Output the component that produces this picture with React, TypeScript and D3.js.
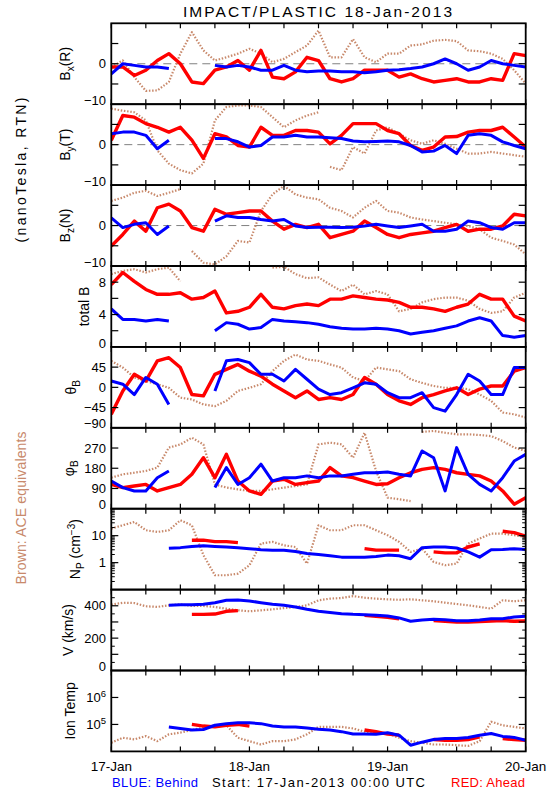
import React from "react";
import * as d3 from "d3";

// ---------- data (hours after 17-Jan-2013 00:00 UTC) ----------
const HOURS = [0,2,4,6,8,10,12,14,16,18,20,22,24,26,28,30,32,34,36,38,40,42,44,46,48,50,52,54,56,58,60,62,64,66,68,70,72];
const DAY_LABELS = ["17-Jan", "18-Jan", "19-Jan", "20-Jan"];
const DAY_HOURS = [0, 24, 48, 72];
const N = null;

const BX_BLUE = [-2.5,0,-0.4,-0.8,-0.8,-1.2,N,N,N,-0.4,-0.8,-0.4,-0.8,-1.6,-1.6,-0.4,-1.6,-2.0,-1.8,-1.8,-2.0,-2.0,-2.2,-2.0,-1.6,-1.5,-1.2,-0.8,0,1.2,0,-1.6,-0.8,0.8,0,-0.4,-0.8];
const BX_RED = [-0.8,-0.8,-2.9,-1.6,0.8,2.5,0,-4.5,-4.9,-1.6,-0.8,0.8,-1.6,3.3,-3.3,-3.7,-2.0,1.6,0.8,-3.7,-4.5,-3.7,-1.6,-1.6,-1.6,-3.3,-2.5,-3.7,-4.5,-4.1,-3.7,-4.5,-4.5,-3.7,-4.1,2.5,2.0];
const BX_BROWN = [-0.8,0.8,-3.3,-6.7,-6.6,-4.5,2.5,7.8,3.3,0.8,1.6,2.5,3.7,2.5,0.4,1.2,2.9,4.5,8.2,1.6,1.6,6.1,1.6,0.4,2.5,2.5,4.5,4.8,5.7,5.9,5.6,3.3,3.1,2.5,1.2,-1.6,-4.9];

const BY_BLUE = [2.7,3.1,3.1,2.3,-1.0,1.1,N,N,N,1.5,1.5,0.7,-0.6,-0.2,1.9,1.9,2.3,1.9,1.9,1.7,1.5,0.9,0.7,0.8,0.9,0.7,-0.2,-1.8,-1.6,-0.2,-2.2,2.3,2.7,2.3,0.7,-0.2,-1.0];
const BY_RED = [1.1,7.2,6.8,5.2,4.3,3.1,4.3,1.1,-3.4,2.7,1.9,-0.2,-0.6,4.3,2.3,2.3,3.5,3.5,3.1,0.2,2.3,5.2,5.2,5.2,3.5,2.7,-0.2,-1.4,-0.6,1.9,2.0,3.1,3.5,3.5,4.3,1.9,-0.6];
const BY_BROWN = [8.9,8.4,8.0,6.0,-1.4,-4.7,-6.3,-7.1,-4.7,6.0,9.3,9.7,9.7,9.3,6.8,4.3,6.0,7.2,8.0,-5.5,-6.3,-0.6,-2.2,3.5,4.3,2.7,1.1,0.2,1.1,0.2,-1.0,-2.2,-2.2,-1.8,-2.2,-2.6,-3.0];

const BZ_BLUE = [1.9,-0.5,0.3,0.7,-2.2,-0.1,N,N,N,1.1,2.4,2.0,2.0,1.5,1.1,1.5,-0.1,-0.5,-0.4,-0.4,-0.5,-0.4,-0.1,0.3,-0.1,-0.5,-0.1,0.3,-1.4,-1.4,-0.9,1.1,0.7,-0.5,-0.9,0.7,0.7];
const BZ_RED = [-5.1,-2.2,1.1,-1.4,4.4,5.3,3.6,-0.5,-1.4,4.0,2.8,3.2,3.6,3.6,1.1,-0.9,0.3,-0.5,0.3,-3.0,-2.2,-1.4,1.1,-0.5,-2.2,-3.0,-2.2,-1.8,-1.4,-0.5,0.3,-1.4,-0.9,-0.9,-0.1,2.8,2.4];
const BZ_BROWN = [6.1,6.9,8.1,8.6,7.3,8.1,9.0,-6.3,-9.2,-9.6,-7.6,-3.8,-4.2,3.6,7.7,9.8,7.7,6.9,6.5,4.4,3.6,2.0,4.4,6.1,3.6,3.2,2.0,1.5,1.1,0.7,0.3,-0.1,-0.9,-3.0,-3.8,-4.7,-7.1];

const BT_BLUE = [4.7,3.4,3.4,3.2,3.4,3.2,N,N,N,2.0,3.0,2.8,2.2,2.4,3.4,3.2,3.1,3.0,2.8,2.5,2.3,2.2,2.2,2.3,2.2,2.0,1.6,1.8,2.0,2.3,2.6,3.2,3.6,3.2,1.4,1.2,1.4];
const BT_RED = [7.7,9.2,8.1,7.1,6.5,6.5,6.7,5.9,6.1,6.9,4.2,4.4,4.9,6.5,4.9,4.7,5.1,5.3,5.1,5.9,5.9,6.3,6.1,5.9,5.8,5.5,4.9,4.9,4.7,4.4,4.9,5.3,6.5,5.9,5.9,3.8,3.2];
const BT_BROWN = [9.0,9.4,9.6,9.2,9.6,9.8,8.1,N,N,N,N,N,N,N,9.8,9.9,9.0,8.5,8.6,7.7,6.9,7.7,6.5,6.9,6.5,4.4,4.7,5.5,5.9,6.1,6.1,5.7,4.7,4.2,4.4,6.1,6.7];

const TH_BLUE = [14,7,-16,22,7,-38,N,N,N,-8,59,62,55,29,29,14,40,18,-4,-16,-12,-1,10,7,-12,-23,-23,-12,-45,-53,-16,29,14,-16,-16,44,44];
const TH_RED = [-60,-8,29,14,59,66,44,-16,-19,29,40,51,36,25,7,-8,-23,-8,-27,-23,-27,-16,22,7,-16,-30,-38,-23,-16,-8,-1,-16,-4,3,3,36,44];
const TH_BROWN = [59,44,22,14,7,-1,-23,-27,-38,-42,-30,-8,-1,7,36,59,73,62,59,51,44,22,14,44,40,36,18,10,3,-1,-1,-4,-16,-30,-56,-60,-67];

const PH_BLUE = [123,94,79,79,138,168,N,N,N,94,183,108,138,198,123,138,138,146,138,146,146,153,160,160,163,153,146,257,227,79,272,153,108,79,138,212,242];
const PH_RED = [108,94,101,108,79,94,108,153,227,138,242,123,79,64,123,131,108,116,123,183,146,138,123,108,111,138,160,175,183,175,160,153,146,123,79,20,49];
const PH_BROWN = [138,153,160,168,183,272,286,316,286,108,94,86,79,79,86,94,101,108,286,294,286,227,338,168,49,42,34,342,346,338,331,331,328,323,301,272,257];

const NP_BLUE = [N,N,N,N,N,3.4,3.6,4.0,4.2,4.0,3.8,3.6,3.3,3.0,2.9,2.9,2.6,2.2,2.0,1.8,1.6,1.6,1.6,1.7,1.9,1.8,1.4,3.6,3.8,3.8,3.5,2.5,1.6,3.0,3.1,3.3,3.1];
const NP_RED = [N,N,N,N,N,N,N,6.8,6.8,6.0,6.0,5.5,N,N,N,N,N,N,N,N,N,N,3.3,2.9,2.9,2.9,N,N,2.5,2.3,2.3,3.8,5.0,N,14.6,13.0,9.6];
const NP_BROWN = [18.3,24.3,32.3,15.9,13.7,15.9,37.2,24.3,1.9,0.34,0.34,0.39,0.8,5.1,5.9,4.4,3.8,0.92,24.3,15.9,15.9,24.3,24.3,15.9,10.4,5.9,2.5,3.3,1.06,0.8,0.92,5.1,7.8,11.9,11.9,10.4,9.0];

const V_BLUE = [N,N,N,N,N,403,407,407,409,419,434,436,430,419,409,403,393,378,366,358,351,347,345,341,337,325,304,312,316,314,308,308,312,320,320,331,335];
const V_RED = [N,N,N,N,N,N,N,347,347,349,366,370,N,N,N,N,N,N,N,N,N,N,341,335,329,320,N,N,308,304,300,300,302,306,308,304,306];
const V_BROWN = [407,419,417,397,393,403,409,399,399,393,382,372,366,372,378,386,393,403,434,444,448,460,450,444,440,437,440,434,428,419,411,403,393,382,434,428,434];

const T_BLUE = [N,N,N,N,N,8.1e4,7.1e4,6.2e4,6.5e4,9.3e4,1.07e5,1.15e5,1.15e5,1.07e5,8.7e4,8.1e4,8.1e4,7.4e4,6.6e4,6.2e4,5.4e4,4.4e4,4.4e4,4.3e4,4.9e4,4.0e4,1.7e4,2.2e4,2.75e4,3.0e4,3.0e4,3.3e4,4.0e4,4.6e4,3.6e4,3.3e4,2.6e4];
const T_RED = [N,N,N,N,N,N,N,1.0e5,8.7e4,8.1e4,9.3e4,1.0e5,8.7e4,N,N,N,N,N,N,N,N,N,6.2e4,5.4e4,4.4e4,4.0e4,N,N,2.75e4,2.6e4,2.6e4,2.75e4,3.5e4,N,3.0e4,2.75e4,2.6e4];
const T_BROWN = [2.1e4,3.2e4,2.8e4,3.7e4,2.4e4,4.3e4,5.0e4,6.2e4,7.6e4,9.3e4,9.3e4,3.2e4,2.4e4,1.8e4,2.4e4,2.4e4,2.8e4,4.3e4,8.1e4,8.1e4,8.1e4,7.1e4,5.4e4,4.6e4,4.6e4,3.2e4,2.4e4,2.1e4,1.8e4,1.8e4,1.7e4,1.6e4,2.4e4,1.26e5,9.3e4,8.1e4,7.1e4];

// ---------- layout / style ----------
const X0 = 111.3, X1 = 525.7, TOP = 23.3, PH = 80.9;
const BLUE = "#0000ff", RED = "#ff0000", BROWN = "#c8896b";
const FONT = "'Liberation Sans', Arial, sans-serif";

type YLab = { parts: { t: string; s?: "sub" | "sup" }[]; bx: number };
type PanelDef = {
  log: boolean;
  domain: [number, number];
  major: number[];
  labels: { v: number; t: string; sup?: string }[];
  minor: number[];
  zero: boolean;
  series: (number | null)[][];
  ylab: YLab;
};

const logMinor = (lo: number, hi: number) => {
  const out: number[] = [];
  for (let e = lo; e < hi; e++) for (let k = 2; k <= 9; k++) out.push(k * Math.pow(10, e));
  return out;
};

const PANELS: PanelDef[] = [
  { log: false, domain: [-10, 10], major: [-5, 0, 5], labels: [{ v: -10, t: "−10" }, { v: 0, t: "0" }], minor: [], zero: true,
    series: [BX_BROWN, BX_RED, BX_BLUE], ylab: { parts: [{ t: "B" }, { t: "x", s: "sub" }, { t: "(R)" }], bx: 70 } },
  { log: false, domain: [-10, 10], major: [-5, 0, 5], labels: [{ v: -10, t: "−10" }, { v: 0, t: "0" }], minor: [], zero: true,
    series: [BY_BROWN, BY_RED, BY_BLUE], ylab: { parts: [{ t: "B" }, { t: "y", s: "sub" }, { t: "(T)" }], bx: 70 } },
  { log: false, domain: [-10, 10], major: [-5, 0, 5], labels: [{ v: -10, t: "−10" }, { v: 0, t: "0" }], minor: [], zero: true,
    series: [BZ_BROWN, BZ_RED, BZ_BLUE], ylab: { parts: [{ t: "B" }, { t: "z", s: "sub" }, { t: "(N)" }], bx: 70 } },
  { log: false, domain: [0, 10], major: [2, 4, 6, 8], labels: [{ v: 0, t: "0" }, { v: 4, t: "4" }, { v: 8, t: "8" }], minor: [], zero: false,
    series: [BT_BROWN, BT_RED, BT_BLUE], ylab: { parts: [{ t: "total B" }], bx: 89 } },
  { log: false, domain: [-90, 90], major: [-45, 0, 45], labels: [{ v: -90, t: "−90" }, { v: -45, t: "−45" }, { v: 0, t: "0" }, { v: 45, t: "45" }], minor: [], zero: false,
    series: [TH_BROWN, TH_RED, TH_BLUE], ylab: { parts: [{ t: "θ" }, { t: "B", s: "sub" }], bx: 76 } },
  { log: false, domain: [0, 360], major: [90, 180, 270], labels: [{ v: 0, t: "0" }, { v: 90, t: "90" }, { v: 180, t: "180" }, { v: 270, t: "270" }], minor: [], zero: false,
    series: [PH_BROWN, PH_RED, PH_BLUE], ylab: { parts: [{ t: "φ" }, { t: "B", s: "sub" }], bx: 74 } },
  { log: true, domain: [0.1, 100], major: [1, 10], labels: [{ v: 1, t: "1" }, { v: 10, t: "10" }], minor: logMinor(-1, 2), zero: false,
    series: [NP_BROWN, NP_RED, NP_BLUE], ylab: { parts: [{ t: "N" }, { t: "P", s: "sub" }, { t: " (cm" }, { t: "−3", s: "sup" }, { t: ")" }], bx: 80 } },
  { log: false, domain: [0, 500], major: [100, 200, 300, 400], labels: [{ v: 0, t: "0" }, { v: 200, t: "200" }, { v: 400, t: "400" }],
    minor: [50, 150, 250, 350, 450], zero: false,
    series: [V_BROWN, V_RED, V_BLUE], ylab: { parts: [{ t: "V (km/s)" }], bx: 73 } },
  { log: true, domain: [1e4, 1e7], major: [1e5, 1e6], labels: [{ v: 1e5, t: "10", sup: "5" }, { v: 1e6, t: "10", sup: "6" }], minor: [], zero: false,
    series: [T_BROWN, T_RED, T_BLUE], ylab: { parts: [{ t: "Ion Temp" }], bx: 75 } },
];

const SERIES_STYLE = [
  { color: BROWN, width: 2.2, dash: "1.5 1.7" },
  { color: RED, width: 3.4, dash: undefined },
  { color: BLUE, width: 3.0, dash: undefined },
];

const x = d3.scaleLinear().domain([0, 72]).range([X0, X1]);
const X_TICKS = d3.range(0, 73, 6);

function Panel({ p, i }: { p: PanelDef; i: number }) {
  const top = TOP + i * PH;
  const bot = top + PH;
  const y = (p.log ? d3.scaleLog() : d3.scaleLinear()).domain(p.domain).range([bot, top]);
  const clipId = `clip${i}`;

  const paths = p.series.map((vals, si) => {
    // break line on missing values and on jumps larger than 60% of the panel
    const pts: ([number, number] | null)[] = [];
    let prev: number | null = null;
    vals.forEach((v, k) => {
      if (v === null) { pts.push(null); prev = null; return; }
      const py = y(v as number);
      if (prev !== null && Math.abs(py - prev) > PH * 0.6) pts.push(null);
      pts.push([x(HOURS[k]), py]);
      prev = py;
    });
    const line = d3.line<[number, number] | null>()
      .defined((d) => d !== null)
      .x((d) => (d as [number, number])[0])
      .y((d) => (d as [number, number])[1]);
    const st = SERIES_STYLE[si];
    return (
      <path key={si} d={line(pts) || ""} fill="none" stroke={st.color} strokeWidth={st.width}
        strokeDasharray={st.dash} strokeLinejoin="round" />
    );
  });

  const yc = (top + bot) / 2;
  return (
    <g>
      <defs>
        <clipPath id={clipId}>
          <rect x={X0} y={top} width={X1 - X0} height={PH} />
        </clipPath>
      </defs>
      {p.zero && (
        <line x1={X0} x2={X1} y1={y(0)} y2={y(0)} stroke="#808080" strokeWidth={1} strokeDasharray="8 5" />
      )}
      <g clipPath={`url(#${clipId})`}>{paths}</g>
      {X_TICKS.map((h) => (
        <g key={h}>
          <line x1={x(h)} x2={x(h)} y1={top} y2={top + 5} stroke="#000" strokeWidth={1.2} />
          <line x1={x(h)} x2={x(h)} y1={bot} y2={bot - 5} stroke="#000" strokeWidth={1.2} />
        </g>
      ))}
      {p.major.map((v) => (
        <g key={"M" + v}>
          <line x1={X0} x2={X0 + 7} y1={y(v)} y2={y(v)} stroke="#000" strokeWidth={1.2} />
          <line x1={X1} x2={X1 - 7} y1={y(v)} y2={y(v)} stroke="#000" strokeWidth={1.2} />
        </g>
      ))}
      {p.minor.map((v) => (
        <g key={"m" + v}>
          <line x1={X0} x2={X0 + 3.5} y1={y(v)} y2={y(v)} stroke="#000" strokeWidth={1} />
          <line x1={X1} x2={X1 - 3.5} y1={y(v)} y2={y(v)} stroke="#000" strokeWidth={1} />
        </g>
      ))}
      {p.labels.map((l) => {
        const isBottom = l.v === p.domain[0];
        const ly = y(l.v) - (isBottom ? 4 : 0);
        return (
          <text key={"L" + l.v} x={106} y={ly + 4.6} textAnchor="end" fontSize={13} fontFamily={FONT}>
            {l.t}
            {l.sup && <tspan dy={-5} fontSize={9.5}>{l.sup}</tspan>}
          </text>
        );
      })}
      <text transform={`translate(${p.ylab.bx},${yc}) rotate(-90)`} textAnchor="middle" fontSize={14} fontFamily={FONT}>
        {(() => {
          let shift = 0;
          return p.ylab.parts.map((pt, k) => {
            let dy = 0;
            let fs: number | undefined = undefined;
            if (pt.s === "sub") { dy = 4 - shift; shift = 4; fs = 10; }
            else if (pt.s === "sup") { dy = -5 - shift; shift = -5; fs = 10; }
            else { dy = -shift; shift = 0; }
            return <tspan key={k} dy={dy} fontSize={fs}>{pt.t}</tspan>;
          });
        })()}
      </text>
      <rect x={X0} y={top} width={X1 - X0} height={PH} fill="none" stroke="#000" strokeWidth={1.8} />
    </g>
  );
}

export default function App() {
  const lastBottom = TOP + PANELS.length * PH;
  return (
    <svg width={550} height={800} viewBox="0 0 550 800"
      style={{ position: "absolute", left: 0, top: 0, background: "#fff" }}>
      <rect x={0} y={0} width={550} height={800} fill="#fff" />
      <text x={183} y={17} fontSize={15.5} fontFamily={FONT} textLength={269} lengthAdjust="spacing">
        IMPACT/PLASTIC   18-Jan-2013
      </text>
      <text transform="translate(26,170) rotate(-90)" textAnchor="middle" fontSize={14} fontFamily={FONT}
        textLength={145} lengthAdjust="spacing">
        (nanoTesla, RTN)
      </text>
      <text transform="translate(26,508) rotate(-90)" textAnchor="middle" fontSize={14} fontFamily={FONT}
        fill={BROWN} textLength={153} lengthAdjust="spacing">
        Brown: ACE equivalents
      </text>
      {PANELS.map((p, i) => <Panel key={i} p={p} i={i} />)}
      {DAY_HOURS.map((h, k) => (
        <text key={h} x={x(h)} y={lastBottom + 19.5} textAnchor="middle" fontSize={13.5} fontFamily={FONT}>
          {DAY_LABELS[k]}
        </text>
      ))}
      <text x={112} y={787} fontSize={13} fontFamily={FONT} fill={BLUE} textLength={86} lengthAdjust="spacing">BLUE: Behind</text>
      <text x={212} y={787} fontSize={13} fontFamily={FONT} textLength={213} lengthAdjust="spacing">Start: 17-Jan-2013 00:00 UTC</text>
      <text x={451} y={787} fontSize={13} fontFamily={FONT} fill={RED} textLength={74} lengthAdjust="spacing">RED: Ahead</text>
    </svg>
  );
}
